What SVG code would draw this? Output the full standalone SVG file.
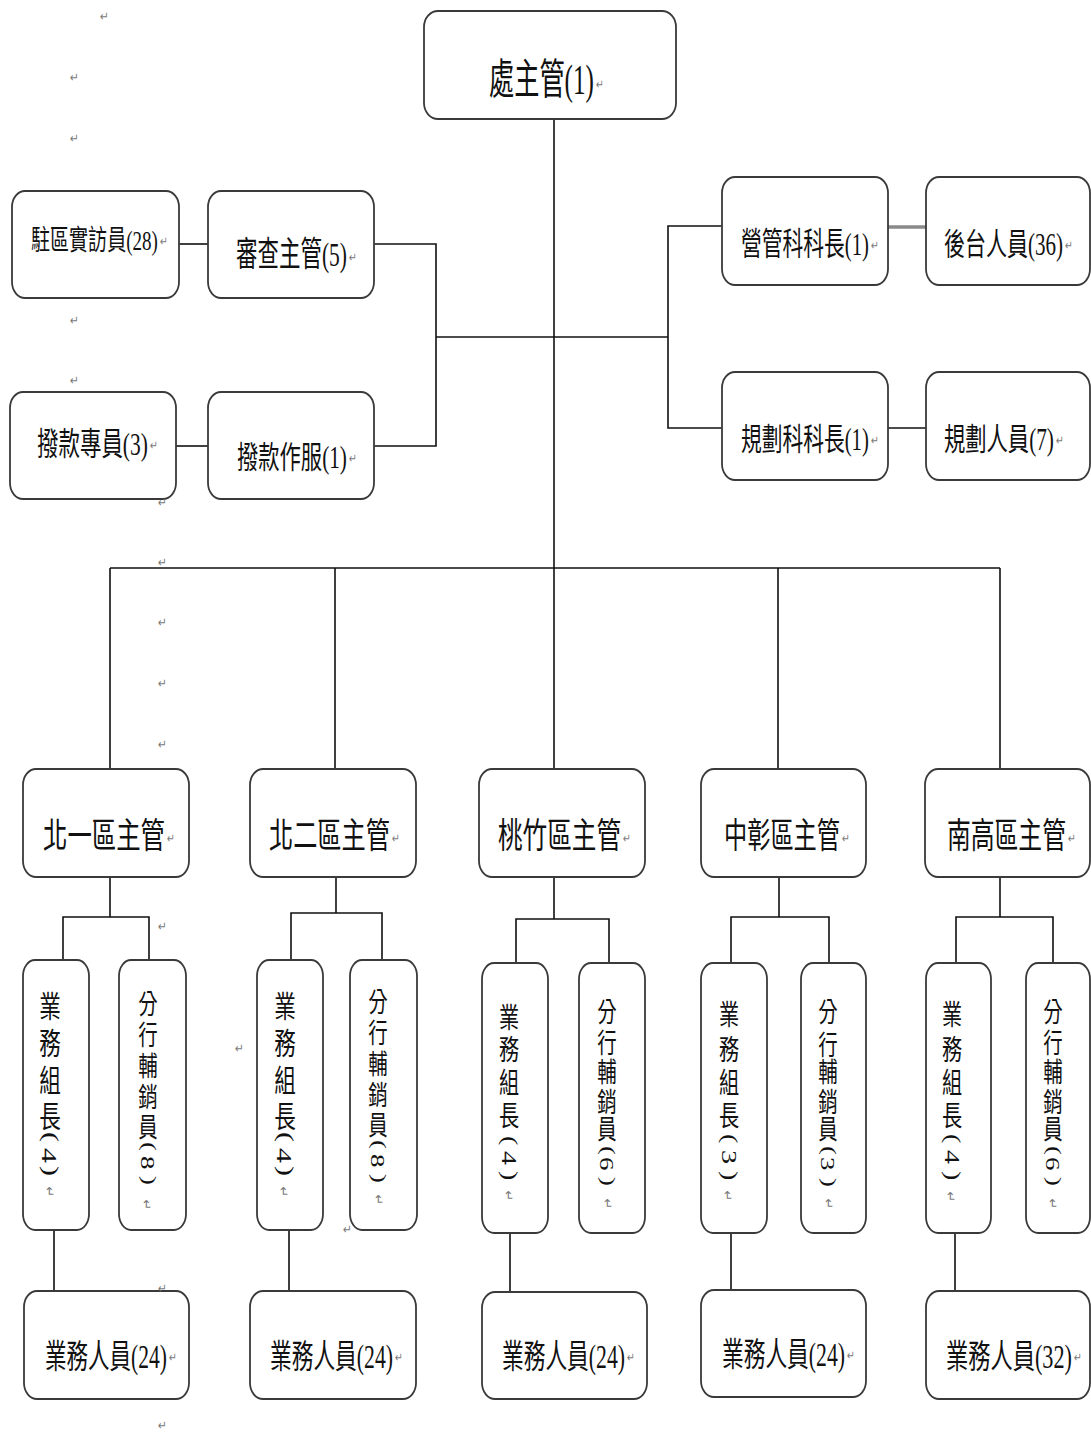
<svg xmlns="http://www.w3.org/2000/svg" width="1091" height="1434" viewBox="0 0 1091 1434">
  <style>
    .box { fill: #fff; stroke: #3a3a3a; stroke-width: 1.8; }
    .ln { fill: none; stroke: #111; stroke-width: 1.6; }
    .ln2 { fill: none; stroke: #8a8a8a; stroke-width: 3.5; }
    .t { font-family: "Liberation Serif", "Noto Sans CJK TC", serif; fill: #111; }
    .vt { font-family: "Liberation Serif", "Noto Sans CJK TC", serif; fill: #111; text-anchor: middle; }
    .pm { font-family: "DejaVu Sans", sans-serif; fill: #7a7a7a; font-size: 13px; }
  </style>
  <rect width="1091" height="1434" fill="#fff"/>

  <!-- connectors -->
  <g id="connectors">
    <path class="ln" d="M554,119 V769"/>
    <path class="ln" d="M374,244 H436 V446 H374"/>
    <path class="ln" d="M436,337 H668"/>
    <path class="ln" d="M722,226 H668 V428 H722"/>
    <path class="ln" d="M179,244 H208"/>
    <path class="ln" d="M176,446 H208"/>
    <path class="ln2" d="M888,227 H926"/>
    <path class="ln" d="M888,428 H926"/>
    <path class="ln" d="M110,568 H1000"/>
    <path class="ln" d="M110,568 V769 M335,568 V769 M778,568 V769 M1000,568 V769"/>
    <path class="ln" d="M110,877 V917 M63,960 V917 H149 V960"/>
    <path class="ln" d="M336,877 V913 M291,960 V913 H382 V960"/>
    <path class="ln" d="M554,877 V919 M516,963 V919 H609 V963"/>
    <path class="ln" d="M779,877 V917 M731,963 V917 H829 V963"/>
    <path class="ln" d="M1000,877 V917 M956,963 V917 H1053 V963"/>
    <path class="ln" d="M54,1230 V1291 M289,1230 V1291 M510,1233 V1292 M731,1233 V1290 M955,1233 V1291"/>
  </g>

  <!-- head office -->
  <g id="n-head">
    <rect class="box" x="424" y="11" width="252" height="108" rx="14" ry="16"/>
    <text class="t" transform="translate(489,94) scale(0.6,1)" font-size="42">處主管(1)</text>
  </g>

  <!-- left branch -->
  <g id="n-visit">
    <rect class="box" x="12" y="191" width="167" height="107" rx="13" ry="16"/>
    <text class="t" transform="translate(31,250) scale(0.68,1)" font-size="28">駐區實訪員(28)</text>
  </g>
  <g id="n-review">
    <rect class="box" x="208" y="191" width="166" height="107" rx="13" ry="16"/>
    <text class="t" transform="translate(236,266) scale(0.632,1)" font-size="34">審查主管(5)</text>
  </g>
  <g id="n-loan-staff">
    <rect class="box" x="10" y="392" width="166" height="107" rx="13" ry="16"/>
    <text class="t" transform="translate(37,455) scale(0.671,1)" font-size="32">撥款專員(3)</text>
  </g>
  <g id="n-loan-op">
    <rect class="box" x="208" y="392" width="166" height="107" rx="13" ry="16"/>
    <text class="t" transform="translate(237,468) scale(0.687,1)" font-size="31">撥款作服(1)</text>
  </g>

  <!-- right branch -->
  <g id="n-mgmt">
    <rect class="box" x="722" y="177" width="166" height="108" rx="13" ry="16"/>
    <text class="t" transform="translate(741,255) scale(0.649,1)" font-size="32">營管科科長(1)</text>
  </g>
  <g id="n-back">
    <rect class="box" x="926" y="177" width="164" height="108" rx="13" ry="16"/>
    <text class="t" transform="translate(944,255) scale(0.678,1)" font-size="31">後台人員(36)</text>
  </g>
  <g id="n-plan">
    <rect class="box" x="722" y="372" width="166" height="108" rx="13" ry="16"/>
    <text class="t" transform="translate(741,450) scale(0.669,1)" font-size="31">規劃科科長(1)</text>
  </g>
  <g id="n-plan-staff">
    <rect class="box" x="926" y="372" width="164" height="108" rx="13" ry="16"/>
    <text class="t" transform="translate(944,450) scale(0.687,1)" font-size="31">規劃人員(7)</text>
  </g>

  <!-- regional heads -->
  <g id="n-north1">
    <rect class="box" x="23" y="769" width="166" height="108" rx="13" ry="16"/>
    <text class="t" transform="translate(43,848) scale(0.697,1)" font-size="35">北一區主管</text>
  </g>
  <g id="n-north2">
    <rect class="box" x="250" y="769" width="166" height="108" rx="13" ry="16"/>
    <text class="t" transform="translate(269,848) scale(0.691,1)" font-size="35">北二區主管</text>
  </g>
  <g id="n-taozhu">
    <rect class="box" x="479" y="769" width="166" height="108" rx="13" ry="16"/>
    <text class="t" transform="translate(498,848) scale(0.703,1)" font-size="35">桃竹區主管</text>
  </g>
  <g id="n-zhongzhang">
    <rect class="box" x="701" y="769" width="165" height="108" rx="13" ry="16"/>
    <text class="t" transform="translate(724,848) scale(0.663,1)" font-size="35">中彰區主管</text>
  </g>
  <g id="n-nangao">
    <rect class="box" x="925" y="769" width="165" height="108" rx="13" ry="16"/>
    <text class="t" transform="translate(947,848) scale(0.68,1)" font-size="35">南高區主管</text>
  </g>

  <!-- team leaders / branch sales: one glyph per line, the bracketed count turned sideways -->
  <g id="n-n1-lead">
    <rect class="box" x="23" y="960" width="66" height="270" rx="12" ry="16"/>
    <text class="vt" transform="translate(50,0) scale(0.72,1)" font-size="30" x="0 0 0 0 -3 -3 -3" y="1017 1054 1091 1127 1132 1148 1166" rotate="0 0 0 0 90 90 90">業務組長(4)</text>
  </g>
  <g id="n-n1-sales">
    <rect class="box" x="119" y="960" width="67" height="270" rx="12" ry="16"/>
    <text class="vt" transform="translate(148,0) scale(0.72,1)" font-size="27" x="0 0 0 0 0 -3 -3 -3" y="1014 1045 1076 1107 1137 1142 1156 1176" rotate="0 0 0 0 0 90 90 90">分行輔銷員(8)</text>
  </g>
  <g id="n-n2-lead">
    <rect class="box" x="257" y="960" width="66" height="270" rx="12" ry="16"/>
    <text class="vt" transform="translate(285,0) scale(0.72,1)" font-size="30" x="0 0 0 0 -3 -3 -3" y="1017 1054 1091 1127 1132 1148 1166" rotate="0 0 0 0 90 90 90">業務組長(4)</text>
  </g>
  <g id="n-n2-sales">
    <rect class="box" x="350" y="960" width="67" height="270" rx="12" ry="16"/>
    <text class="vt" transform="translate(378,0) scale(0.72,1)" font-size="27" x="0 0 0 0 0 -3 -3 -3" y="1012 1043 1074 1105 1135 1140 1154 1174" rotate="0 0 0 0 0 90 90 90">分行輔銷員(8)</text>
  </g>
  <g id="n-tz-lead">
    <rect class="box" x="482" y="963" width="66" height="270" rx="12" ry="16"/>
    <text class="vt" transform="translate(509,0) scale(0.72,1)" font-size="28" x="0 0 0 0 -3 -3 -3" y="1028 1060 1093 1126 1136 1151 1171" rotate="0 0 0 0 90 90 90">業務組長(4)</text>
  </g>
  <g id="n-tz-sales">
    <rect class="box" x="579" y="963" width="66" height="270" rx="12" ry="16"/>
    <text class="vt" transform="translate(607,0) scale(0.72,1)" font-size="27" x="0 0 0 0 0 -3 -3 -3" y="1022 1053 1082 1112 1139 1146 1157 1177" rotate="0 0 0 0 0 90 90 90">分行輔銷員(6)</text>
  </g>
  <g id="n-zz-lead">
    <rect class="box" x="701" y="963" width="66" height="270" rx="12" ry="16"/>
    <text class="vt" transform="translate(729,0) scale(0.72,1)" font-size="28" x="0 0 0 0 -3 -3 -3" y="1025 1060 1093 1126 1134 1150 1171" rotate="0 0 0 0 90 90 90">業務組長(3)</text>
  </g>
  <g id="n-zz-sales">
    <rect class="box" x="801" y="963" width="65" height="270" rx="12" ry="16"/>
    <text class="vt" transform="translate(828,0) scale(0.72,1)" font-size="27" x="0 0 0 0 0 -3 -3 -3" y="1022 1055 1082 1112 1139 1146 1157 1178" rotate="0 0 0 0 0 90 90 90">分行輔銷員(3)</text>
  </g>
  <g id="n-ng-lead">
    <rect class="box" x="926" y="963" width="65" height="270" rx="12" ry="16"/>
    <text class="vt" transform="translate(952,0) scale(0.72,1)" font-size="28" x="0 0 0 0 -3 -3 -3" y="1025 1060 1093 1126 1134 1150 1171" rotate="0 0 0 0 90 90 90">業務組長(4)</text>
  </g>
  <g id="n-ng-sales">
    <rect class="box" x="1026" y="963" width="64" height="270" rx="12" ry="16"/>
    <text class="vt" transform="translate(1053,0) scale(0.72,1)" font-size="27" x="0 0 0 0 0 -3 -3 -3" y="1022 1053 1082 1112 1139 1146 1157 1177" rotate="0 0 0 0 0 90 90 90">分行輔銷員(6)</text>
  </g>

  <!-- sales staff -->
  <g id="n-n1-staff">
    <rect class="box" x="24" y="1291" width="165" height="108" rx="13" ry="16"/>
    <text class="t" transform="translate(45,1368) scale(0.652,1)" font-size="33">業務人員(24)</text>
  </g>
  <g id="n-n2-staff">
    <rect class="box" x="250" y="1291" width="166" height="108" rx="13" ry="16"/>
    <text class="t" transform="translate(270,1368) scale(0.658,1)" font-size="33">業務人員(24)</text>
  </g>
  <g id="n-tz-staff">
    <rect class="box" x="482" y="1292" width="165" height="107" rx="13" ry="16"/>
    <text class="t" transform="translate(502,1368) scale(0.658,1)" font-size="33">業務人員(24)</text>
  </g>
  <g id="n-zz-staff">
    <rect class="box" x="701" y="1290" width="165" height="107" rx="13" ry="16"/>
    <text class="t" transform="translate(722,1366) scale(0.658,1)" font-size="33">業務人員(24)</text>
  </g>
  <g id="n-ng-staff">
    <rect class="box" x="926" y="1291" width="164" height="108" rx="13" ry="16"/>
    <text class="t" transform="translate(946,1368) scale(0.674,1)" font-size="33">業務人員(32)</text>
  </g>

  <!-- paragraph marks -->
  <g id="marks" class="pm">
    <text x="100" y="21" textLength="9" lengthAdjust="spacingAndGlyphs">↵</text>
    <text x="70" y="82" textLength="9" lengthAdjust="spacingAndGlyphs">↵</text>
    <text x="70" y="143" textLength="9" lengthAdjust="spacingAndGlyphs">↵</text>
    <text x="70" y="325" textLength="9" lengthAdjust="spacingAndGlyphs">↵</text>
    <text x="70" y="385" textLength="9" lengthAdjust="spacingAndGlyphs">↵</text>
    <text x="158" y="507" textLength="9" lengthAdjust="spacingAndGlyphs">↵</text>
    <text x="158" y="567" textLength="9" lengthAdjust="spacingAndGlyphs">↵</text>
    <text x="158" y="627" textLength="9" lengthAdjust="spacingAndGlyphs">↵</text>
    <text x="158" y="688" textLength="9" lengthAdjust="spacingAndGlyphs">↵</text>
    <text x="158" y="749" textLength="9" lengthAdjust="spacingAndGlyphs">↵</text>
    <text x="158" y="931" textLength="9" lengthAdjust="spacingAndGlyphs">↵</text>
    <text x="235" y="1053" textLength="9" lengthAdjust="spacingAndGlyphs">↵</text>
    <text x="343" y="1234" textLength="9" lengthAdjust="spacingAndGlyphs">↵</text>
    <text x="158" y="1293" textLength="9" lengthAdjust="spacingAndGlyphs">↵</text>
    <text x="158" y="1430" textLength="9" lengthAdjust="spacingAndGlyphs">↵</text>
    <!-- end-of-label marks -->
    <text x="596" y="89" textLength="8" lengthAdjust="spacingAndGlyphs">↵</text>
    <text x="160" y="246" textLength="8" lengthAdjust="spacingAndGlyphs">↵</text>
    <text x="349" y="262" textLength="8" lengthAdjust="spacingAndGlyphs">↵</text>
    <text x="150" y="450" textLength="8" lengthAdjust="spacingAndGlyphs">↵</text>
    <text x="349" y="463" textLength="8" lengthAdjust="spacingAndGlyphs">↵</text>
    <text x="871" y="250" textLength="8" lengthAdjust="spacingAndGlyphs">↵</text>
    <text x="1065" y="250" textLength="8" lengthAdjust="spacingAndGlyphs">↵</text>
    <text x="871" y="445" textLength="8" lengthAdjust="spacingAndGlyphs">↵</text>
    <text x="1056" y="445" textLength="8" lengthAdjust="spacingAndGlyphs">↵</text>
    <text x="167" y="843" textLength="8" lengthAdjust="spacingAndGlyphs">↵</text>
    <text x="392" y="843" textLength="8" lengthAdjust="spacingAndGlyphs">↵</text>
    <text x="623" y="843" textLength="8" lengthAdjust="spacingAndGlyphs">↵</text>
    <text x="842" y="843" textLength="8" lengthAdjust="spacingAndGlyphs">↵</text>
    <text x="1068" y="843" textLength="8" lengthAdjust="spacingAndGlyphs">↵</text>
    <text x="169" y="1362" textLength="8" lengthAdjust="spacingAndGlyphs">↵</text>
    <text x="395" y="1362" textLength="8" lengthAdjust="spacingAndGlyphs">↵</text>
    <text x="627" y="1362" textLength="8" lengthAdjust="spacingAndGlyphs">↵</text>
    <text x="847" y="1360" textLength="8" lengthAdjust="spacingAndGlyphs">↵</text>
    <text x="1074" y="1362" textLength="8" lengthAdjust="spacingAndGlyphs">↵</text>
    <!-- marks at the foot of the vertical labels -->
    <text transform="translate(49,1192) rotate(90)" text-anchor="middle" dy="4">↵</text>
    <text transform="translate(146,1205) rotate(90)" text-anchor="middle" dy="4">↵</text>
    <text transform="translate(283,1192) rotate(90)" text-anchor="middle" dy="4">↵</text>
    <text transform="translate(378,1200) rotate(90)" text-anchor="middle" dy="4">↵</text>
    <text transform="translate(508,1196) rotate(90)" text-anchor="middle" dy="4">↵</text>
    <text transform="translate(607,1204) rotate(90)" text-anchor="middle" dy="4">↵</text>
    <text transform="translate(727,1196) rotate(90)" text-anchor="middle" dy="4">↵</text>
    <text transform="translate(828,1204) rotate(90)" text-anchor="middle" dy="4">↵</text>
    <text transform="translate(950,1197) rotate(90)" text-anchor="middle" dy="4">↵</text>
    <text transform="translate(1052,1204) rotate(90)" text-anchor="middle" dy="4">↵</text>
  </g>
</svg>
